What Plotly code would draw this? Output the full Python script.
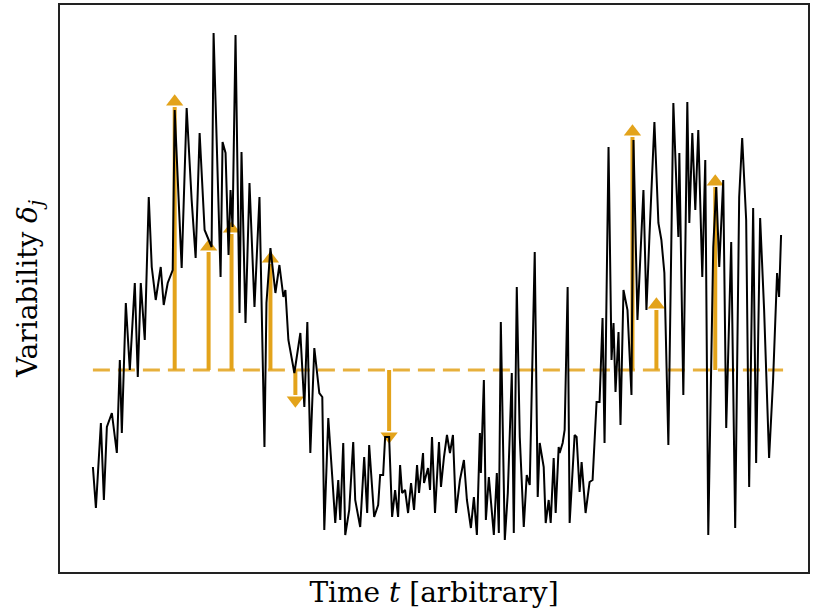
import plotly.graph_objects as go

# Time axis (arbitrary units) and variability delta_j of the series
t = [93, 96, 101, 104, 107, 112, 117, 120, 122, 126, 130, 135, 138, 141, 145, 149, 152, 156, 161, 164,
     168, 173, 175, 179, 182, 187, 192, 196, 200, 205, 209, 212, 214, 221, 223, 226, 229, 231, 233, 236,
     240, 242, 246, 250, 255, 260, 265, 267, 271, 276, 280, 284, 286, 289, 295, 301, 305, 308, 311, 315,
     320, 323, 325, 329, 333, 336, 339, 341, 344, 346, 350, 354, 356, 361, 365, 368, 370, 375, 379, 381,
     384, 386, 390, 393, 396, 399, 401, 403, 406, 409, 412, 415, 418, 420, 424, 425, 429, 431, 433, 436,
     440, 442, 445, 448, 451, 454, 457, 461, 465, 468, 472, 475, 478, 481, 482, 485, 487, 490, 495, 498,
     500, 502, 506, 509, 513, 515, 518, 521, 525, 528, 531, 536, 539, 541, 545, 547, 550, 552, 555, 557,
     560, 561, 564, 566, 569, 571, 576, 578, 581, 583, 587, 591, 594, 598, 601, 604, 606, 610, 613, 615,
     617, 620, 622, 625, 629, 633, 635, 639, 645, 648, 651, 656, 660, 663, 666, 670, 675, 680, 681, 685,
     689, 691, 694, 697, 700, 704, 707, 710, 715, 718, 721, 725, 728, 733, 737, 741, 744, 748, 751, 755,
     758, 762, 766, 771, 775, 779, 781, 783]
delta = [133, 92, 177, 100, 173, 187, 147, 240, 167, 297, 230, 317, 223, 317, 260, 403, 333, 300, 333, 295,
         317, 330, 490, 390, 332, 492, 400, 342, 467, 370, 360, 353, 567, 323, 458, 447, 345, 410, 373, 565,
         287, 448, 277, 417, 293, 403, 153, 297, 352, 307, 335, 303, 310, 260, 227, 267, 193, 278, 147, 252,
         207, 203, 70, 182, 123, 77, 120, 80, 157, 65, 90, 158, 100, 73, 143, 87, 155, 83, 95, 125,
         125, 163, 163, 83, 110, 83, 135, 107, 110, 87, 117, 90, 135, 107, 147, 117, 132, 110, 163, 87,
         158, 113, 143, 165, 147, 165, 87, 120, 140, 100, 72, 103, 65, 167, 127, 220, 80, 123, 65, 127,
         67, 278, 60, 107, 227, 67, 313, 163, 73, 125, 115, 348, 103, 157, 133, 77, 100, 77, 142, 87,
         153, 147, 157, 170, 313, 77, 165, 163, 108, 138, 87, 118, 120, 198, 198, 282, 157, 453, 240, 277,
         208, 268, 175, 310, 290, 205, 460, 280, 410, 290, 363, 478, 377, 360, 327, 155, 497, 363, 447, 205,
         498, 377, 467, 390, 470, 323, 440, 65, 353, 413, 333, 420, 172, 358, 72, 403, 462, 380, 113, 392,
         137, 382, 290, 142, 220, 327, 303, 365]

# Threshold level and the excursions marked by arrows
threshold = 230
arrow_t = [175, 209, 232, 271, 296, 390, 634, 658, 717]
arrow_tip = [505, 360, 378, 348, 193, 157, 475, 302, 425]

gold = "#E3A31B"
head_size = 15

fig = go.Figure()

# dashed threshold line
fig.add_trace(go.Scatter(
    x=[t[0], t[-1] + 2], y=[threshold, threshold], mode="lines",
    line=dict(color=gold, width=3, dash="17px,8px"), opacity=0.85,
    hoverinfo="skip", showlegend=False))

# arrow stems
sx, sy = [], []
for at, tip in zip(arrow_t, arrow_tip):
    sign = 1 if tip > threshold else -1
    sx += [at, at, None]
    sy += [threshold, tip - sign * head_size * 0.8, None]
fig.add_trace(go.Scatter(
    x=sx, y=sy, mode="lines", line=dict(color=gold, width=4),
    hoverinfo="skip", showlegend=False))

# arrow heads
hx, hy, hs = [], [], []
for at, tip in zip(arrow_t, arrow_tip):
    sign = 1 if tip > threshold else -1
    hx.append(at)
    hy.append(tip - sign * head_size * 0.45)
    hs.append("triangle-up" if sign > 0 else "triangle-down")
fig.add_trace(go.Scatter(
    x=hx, y=hy, mode="markers",
    marker=dict(symbol=hs, size=head_size, color=gold, line=dict(width=0)),
    hoverinfo="skip", showlegend=False))

# variability series
fig.add_trace(go.Scatter(
    x=t, y=delta, mode="lines", line=dict(color="black", width=2),
    hoverinfo="skip", showlegend=False))

serif = "DejaVu Serif, Liberation Serif, serif"
fig.update_layout(
    width=813, height=616,
    margin=dict(l=60, r=3, t=5, b=44),
    paper_bgcolor="white", plot_bgcolor="white",
    font=dict(family=serif, color="black"),
)
fig.update_xaxes(
    range=[60, 810], showgrid=False, zeroline=False, showticklabels=False, ticks="",
    showline=True, mirror=True, linecolor="#222", linewidth=1.5,
    title=dict(text="Time <i>t</i> [arbitrary]", font=dict(size=28, family=serif), standoff=10),
)
fig.update_yaxes(
    range=[28, 595], showgrid=False, zeroline=False, showticklabels=False, ticks="",
    showline=True, mirror=True, linecolor="#222", linewidth=1.5,
    title=dict(text="Variability <i>δ<sub>j</sub></i>", font=dict(size=28, family=serif), standoff=12),
)

fig.write_html("out.html")
